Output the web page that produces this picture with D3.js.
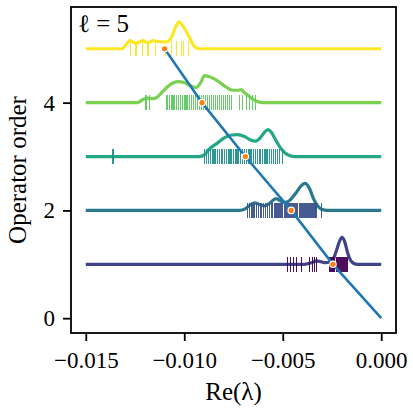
<!DOCTYPE html>
<html><head><meta charset="utf-8">
<script src="https://cdn.jsdelivr.net/npm/d3@7"></script>
<style>
body{margin:0;background:#fff}
svg{display:block}
svg text{font-family:"Liberation Serif","DejaVu Serif","Noto Serif","Times New Roman",Times,serif !important;fill:#000}
</style>
</head><body>
<svg id="c" width="413" height="408"></svg>
<script>
// ---------- data ----------
const orders = [1, 2, 3, 4, 5];
const xTicks = [-0.015, -0.010, -0.005, 0.000];
const yTicks = [0, 2, 4];
const panelLabel = "ℓ = 5";
// mean eigenvalue per operator order (order 0..5)
const meanOrder = [0, 1, 2, 3, 4, 5];
const meanRe = [0, -0.00245, -0.00457, -0.00690, -0.00910, -0.01100];

// KDE curves (x positions and density normalised to its peak)
const kdeX1 = [-0.0150,-0.00389,-0.00354,-0.00328,-0.00303,-0.00283,-0.00262,-0.00242,-0.00227,-0.00212,-0.00199,-0.00186,-0.00171,-0.00156,-0.00141,-0.00120,0];
const kdeY1 = [0,0,0.06,0.13,0.09,0.06,0.09,0.22,0.52,0.85,1,0.85,0.44,0.15,0.04,0,0];
const kdeX2 = [-0.0150,-0.00719,-0.00689,-0.00668,-0.00641,-0.00618,-0.00592,-0.00567,-0.00534,-0.00511,-0.00491,-0.00465,-0.00435,-0.00409,-0.00387,-0.00364,-0.00344,-0.00323,-0.00303,-0.00272,0];
const kdeY2 = [0,0,0.07,0.19,0.28,0.22,0.17,0.26,0.44,0.35,0.30,0.37,0.63,0.89,1,0.81,0.44,0.17,0.04,0,0];
const kdeX3 = [-0.0150,-0.00922,-0.00897,-0.00872,-0.00836,-0.00795,-0.00760,-0.00730,-0.00694,-0.00663,-0.00638,-0.00613,-0.00592,-0.00575,-0.00557,-0.00537,-0.00516,-0.00491,-0.00466,-0.00435,0];
const kdeY3 = [0,0,0.07,0.28,0.48,0.70,0.80,0.81,0.74,0.61,0.57,0.70,0.91,1,0.89,0.63,0.37,0.15,0.04,0,0];
const kdeX4 = [-0.0150,-0.01237,-0.01212,-0.01186,-0.01160,-0.01140,-0.01110,-0.01085,-0.01060,-0.01034,-0.00998,-0.00968,-0.00939,-0.00917,-0.00897,-0.00872,-0.00831,-0.00790,-0.00755,-0.00729,-0.00711,-0.00694,-0.00674,-0.00648,-0.00618,-0.00590,0];
const kdeY4 = [0,0,0.11,0.17,0.15,0.19,0.41,0.59,0.72,0.78,0.74,0.63,0.56,0.74,1,0.96,0.81,0.59,0.46,0.46,0.48,0.37,0.26,0.11,0.02,0,0];
const kdeX5 = [-0.0150,-0.01318,-0.01274,-0.01247,-0.01210,-0.01186,-0.01159,-0.01125,-0.01091,-0.01064,-0.01044,-0.01027,-0.01004,-0.00978,-0.00958,-0.00936,-0.00910,0];
const kdeY5 = [0,0,0.30,0.20,0.30,0.22,0.30,0.26,0.26,0.44,0.81,1,0.81,0.48,0.19,0.02,0,0];
const kdePeak = 0.5;

// eigenvalue real parts (rug ticks) per order
const eig1 = [-0.00476,-0.00460,-0.00445,-0.00430,-0.00407,-0.00364,-0.00351,-0.00339,-0.00328,-0.00262,-0.00257,-0.00250,-0.00245,-0.00240,-0.00235,-0.00227,-0.00222,-0.00217,-0.00212,-0.00207,-0.00202,-0.00196,-0.00191,-0.00186,-0.00181,-0.00176,-0.00171];
const eig2 = [-0.00679,-0.00669,-0.00658,-0.00651,-0.00643,-0.00633,-0.00623,-0.00613,-0.00608,-0.00598,-0.00587,-0.00577,-0.00567,-0.00559,-0.00552,-0.00542,-0.00537,-0.00532,-0.00524,-0.00516,-0.00511,-0.00506,-0.00501,-0.00493,-0.00486,-0.00481,-0.00476,-0.00471,-0.00466,-0.00458,-0.00450,-0.00445,-0.00440,-0.00435,-0.00430,-0.00425,-0.00417,-0.00410,-0.00405,-0.00400,-0.00394,-0.00389,-0.00384,-0.00379,-0.00372,-0.00364,-0.00359,-0.00354,-0.00349,-0.00344,-0.00336,-0.00331,-0.00301];
const eig3 = [-0.01362,-0.00897,-0.00887,-0.00877,-0.00867,-0.00856,-0.00849,-0.00841,-0.00831,-0.00821,-0.00813,-0.00806,-0.00795,-0.00785,-0.00775,-0.00768,-0.00760,-0.00750,-0.00740,-0.00732,-0.00724,-0.00714,-0.00704,-0.00694,-0.00684,-0.00674,-0.00666,-0.00658,-0.00648,-0.00638,-0.00628,-0.00620,-0.00613,-0.00603,-0.00592,-0.00585,-0.00577,-0.00567,-0.00557,-0.00547,-0.00537,-0.00526,-0.00516,-0.00501];
const eig4 = [-0.01194,-0.01176,-0.01092,-0.01085,-0.01075,-0.01065,-0.01057,-0.01049,-0.01039,-0.01029,-0.01019,-0.01009,-0.00999,-0.00991,-0.00983,-0.00973,-0.00963,-0.00953,-0.00943,-0.00933,-0.00922,-0.00912,-0.00902,-0.00892,-0.00882,-0.00872,-0.00861,-0.00851,-0.00841,-0.00831,-0.00821,-0.00811,-0.00801,-0.00790,-0.00780,-0.00770,-0.00760,-0.00719,-0.00704,-0.00684,-0.00669,-0.00653,-0.00638];
const eig5 = [-0.01275,-0.01245,-0.01212,-0.01184,-0.01146,-0.01095,-0.01067,-0.01039,-0.01016,-0.01004,-0.00978];
const rugHalf = 0.14;

// ---------- drawing ----------
const svg = d3.select("#c");
const m = {left:71, right:396, top:7, bottom:333};
const x = d3.scaleLinear().domain([-0.01575, 0.00075]).range([m.left, m.right]);
const y = d3.scaleLinear().domain([-0.275, 5.775]).range([m.bottom, m.top]);

const kdeXs = [kdeX1,kdeX2,kdeX3,kdeX4,kdeX5];
const kdeYs = [kdeY1,kdeY2,kdeY3,kdeY4,kdeY5];
const eigs = [eig1,eig2,eig3,eig4,eig5];
const lineColor = i => d3.interpolateViridis((i+1)/5);
const rugColor = i => d3.interpolateViridis(i/4);

const plot = svg.append("g");
const line = d3.line().x(d=>x(d[0])).y(d=>y(d[1])).curve(d3.curveMonotoneX);

orders.forEach((o,i)=>{
  const pts = kdeXs[i].map((v,j)=>[v, o + kdeYs[i][j]*kdePeak]);
  plot.append("path").attr("d", line(pts)).attr("fill","none")
    .attr("stroke", lineColor(i)).attr("stroke-width",3.2).attr("stroke-linejoin","round");
  plot.append("g").attr("shape-rendering","crispEdges").selectAll("line").data(eigs[i]).join("line")
    .attr("x1",d=>x(d)).attr("x2",d=>x(d))
    .attr("y1",y(o-rugHalf)).attr("y2",y(o+rugHalf))
    .attr("stroke", rugColor(i)).attr("stroke-width",1.1).attr("stroke-opacity",0.95);
});

// mean line
const meanPts = meanOrder.map((o,j)=>[meanRe[j], o]);
plot.append("path").attr("d", d3.line().x(d=>x(d[0])).y(d=>y(d[1]))(meanPts))
  .attr("fill","none").attr("stroke","#1f77b4").attr("stroke-width",2.6);
plot.append("g").selectAll("circle").data(meanPts.slice(1)).join("circle")
  .attr("cx",d=>x(d[0])).attr("cy",d=>y(d[1])).attr("r",3.2)
  .attr("fill","#ff7f0e").attr("stroke","#fff").attr("stroke-width",1.2);

// axes
const fmt = d => (d<0?"\u2212":"") + Math.abs(d).toFixed(3);
const xAxis = d3.axisBottom(x).tickValues(xTicks).tickFormat(fmt).tickSize(8).tickPadding(8);
const yAxis = d3.axisLeft(y).tickValues(yTicks).tickFormat(d3.format("d")).tickSize(8).tickPadding(8);
const gx = svg.append("g").attr("transform",`translate(0,${m.bottom})`).call(xAxis);
const gy = svg.append("g").attr("transform",`translate(${m.left},0)`).call(yAxis);
[gx,gy].forEach(g=>{
  g.attr("font-family",null);
  g.select(".domain").remove();
  g.selectAll(".tick line").attr("stroke","#000").attr("stroke-width",1.8);
  g.selectAll(".tick text").attr("font-size",23).attr("fill","#000");
});
gx.selectAll(".tick text").attr("dy",null).attr("y",35);
gy.selectAll(".tick text").attr("dy",null).attr("y",7.5);

svg.append("rect").attr("x",m.left).attr("y",m.top)
  .attr("width",m.right-m.left).attr("height",m.bottom-m.top)
  .attr("fill","none").attr("stroke","#000").attr("stroke-width",1.8);

svg.append("text").attr("x",(m.left+m.right)/2).attr("y",400)
  .attr("text-anchor","middle").attr("font-size",25).text("Re(λ)");
svg.append("text").attr("transform",`translate(26,${(m.top+m.bottom)/2}) rotate(-90)`)
  .attr("text-anchor","middle").attr("font-size",25).text("Operator order");
svg.append("text").attr("x",78).attr("y",32).attr("font-size",25).text(panelLabel);
</script>
</body></html>
